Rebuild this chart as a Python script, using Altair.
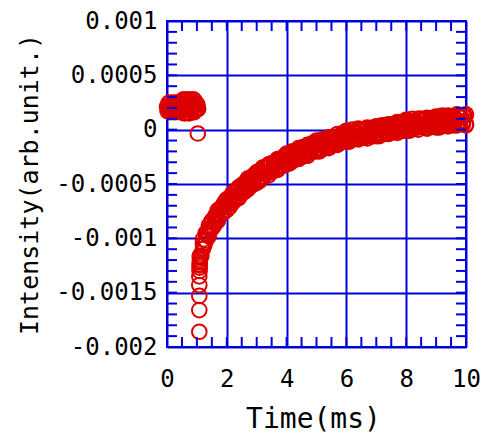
import altair as alt
import pandas as pd

BLUE = "#0000dd"
RED = "#dd0000"
FONT = "DejaVu Sans Mono"

# ---- data (time in ms, intensity in units of 1e-5 arb.unit) ----
pre_t = [0.00, 0.02, 0.04, 0.06, 0.08, 0.10, 0.12, 0.14, 0.16, 0.18,
         0.20, 0.22, 0.24, 0.26, 0.28, 0.30, 0.32, 0.34, 0.36, 0.38,
         0.40, 0.42, 0.44, 0.46, 0.48,
         0.50, 0.52, 0.54, 0.56, 0.58, 0.60, 0.62, 0.64, 0.66, 0.68,
         0.70, 0.72, 0.74, 0.76, 0.78, 0.80, 0.82, 0.84, 0.86, 0.88,
         0.90, 0.92, 0.94, 0.96, 0.98, 1.00, 1.02, 1.04]
pre_v = [21, 17, 24, 19, 25, 16, 22, 18, 24, 20,
         17, 25, 21, 16, 23, 19, 25, 18, 22, 17,
         24, 20, 16, 23, 19,
         26, 17, 22, 28, 15, 24, 20, 27, 16, 23,
         19, 28, 15, 25, 21, 27, 17, 24, 20, 28,
         16, 22, 26, 18, 24, 20, 23, 19]

drop_t = [1.03, 1.08, 1.08, 1.08, 1.08, 1.08, 1.09, 1.09, 1.09, 1.10, 1.10, 1.11]
drop_v = [-3.5, -186, -166, -153, -143, -135, -130, -127, -124, -122, -120, -118]

rec_t = [1.10, 1.15, 1.20, 1.25, 1.30, 1.35, 1.40, 1.45, 1.50, 1.55,
         1.60, 1.65, 1.70, 1.75, 1.80, 1.85, 1.90, 1.95, 2.00, 2.05,
         2.10, 2.15, 2.20, 2.25, 2.30, 2.35, 2.40, 2.45, 2.50, 2.55,
         2.60, 2.65, 2.70, 2.75, 2.80, 2.85, 2.90, 2.95, 3.00, 3.05,
         3.10, 3.15, 3.20, 3.25, 3.30, 3.35, 3.40, 3.45, 3.50, 3.55,
         3.60, 3.65, 3.70, 3.75, 3.80, 3.85, 3.90, 3.95, 4.00, 4.05,
         4.10, 4.15, 4.20, 4.25, 4.30, 4.35, 4.40, 4.45, 4.50, 4.55,
         4.60, 4.65, 4.70, 4.75, 4.80, 4.85, 4.90, 4.95, 5.00, 5.05,
         5.10, 5.15, 5.20, 5.25, 5.30, 5.35, 5.40, 5.45, 5.50, 5.55,
         5.60, 5.65, 5.70, 5.75, 5.80, 5.85, 5.90, 5.95, 6.00, 6.05,
         6.10, 6.15, 6.20, 6.25, 6.30, 6.35, 6.40, 6.45, 6.50, 6.55,
         6.60, 6.65, 6.70, 6.75, 6.80, 6.85, 6.90, 6.95, 7.00, 7.05,
         7.10, 7.15, 7.20, 7.25, 7.30, 7.35, 7.40, 7.45, 7.50, 7.55,
         7.60, 7.65, 7.70, 7.75, 7.80, 7.85, 7.90, 7.95, 8.00, 8.05,
         8.10, 8.15, 8.20, 8.25, 8.30, 8.35, 8.40, 8.45, 8.50, 8.55,
         8.60, 8.65, 8.70, 8.75, 8.80, 8.85, 8.90, 8.95, 9.00, 9.05,
         9.10, 9.15, 9.20, 9.25, 9.30, 9.35, 9.40, 9.45, 9.50, 9.55,
         9.60, 9.65, 9.70, 9.75, 9.80, 9.85, 9.90, 9.95, 10.00]
rec_v = [-117, -116, -105, -106, -95, -97, -91, -92, -84, -89,
         -83, -78, -82, -74, -78, -72, -76, -66, -70, -66,
         -68, -61, -67, -62, -58, -62, -55, -59, -54, -58,
         -49, -52, -48, -51, -44, -51, -46, -42, -47, -40,
         -45, -40, -44, -35, -39, -35, -39, -32, -39, -34,
         -30, -36, -29, -34, -29, -33, -25, -29, -25, -28,
         -22, -29, -25, -21, -26, -20, -25, -21, -25, -16,
         -21, -17, -21, -14, -21, -17, -14, -19, -12, -18,
         -14, -18, -10, -14, -11, -15, -8, -16, -11, -8,
         -13, -7, -12, -8, -12, -4, -8, -5, -8, -2,
         -10, -6, -2, -8, -2, -7, -3, -8, 0, -4,
         -1, -5, 1, -6, -2, 1, -5, 1, -4, 0,
         -5, 3, -1, 2, -2, 4, -3, 1, 4, -2,
         5, -1, 3, -1, 7, 2, 5, 2, 8, 0,
         4, 8, 2, 8, 2, 6, 2, 10, 5, 8,
         4, 10, 2, 7, 10, 4, 10, 4, 8, 3,
         11, 7, 10, 6, 12, 4, 8, 11, 5, 11,
         6, 10, 5, 13, 8, 11, 7, 13, 5]

# upper and lower edges of the scattered band
band_t = [1.1, 1.2, 1.3, 1.4, 1.5, 1.6, 1.7, 1.8, 1.9, 2.0,
          2.1, 2.2, 2.3, 2.4, 2.5, 2.6, 2.7, 2.8, 2.9, 3.0,
          3.1, 3.2, 3.3, 3.4, 3.5, 3.6, 3.7, 3.8, 3.9, 4.0,
          4.1, 4.2, 4.3, 4.4, 4.5, 4.6, 4.7, 4.8, 4.9, 5.0,
          5.1, 5.2, 5.3, 5.4, 5.5, 5.6, 5.7, 5.8, 5.9, 6.0,
          6.1, 6.2, 6.3, 6.4, 6.5, 6.6, 6.7, 6.8, 6.9, 7.0,
          7.1, 7.2, 7.3, 7.4, 7.5, 7.6, 7.7, 7.8, 7.9, 8.0,
          8.1, 8.2, 8.3, 8.4, 8.5, 8.6, 8.7, 8.8, 8.9, 9.0,
          9.1, 9.2, 9.3, 9.4, 9.5, 9.6, 9.7, 9.8, 9.9, 10.0]
band_hi = [-116, -101, -96, -88, -84, -80, -74, -72, -68, -64,
           -62, -58, -58, -53, -51, -50, -45, -45, -42, -39,
           -38, -35, -35, -32, -31, -30, -27, -27, -25, -22,
           -22, -20, -20, -17, -17, -17, -14, -14, -12, -10,
           -11, -9, -10, -7, -7, -7, -4, -5, -3, -1,
           -2, 0, -2, 1, 0, 0, 2, 1, 2, 3,
           3, 4, 3, 5, 5, 5, 7, 6, 7, 9,
           8, 10, 8, 10, 10, 9, 11, 10, 11, 12,
           11, 13, 11, 13, 12, 11, 14, 12, 13, 14]
band_lo = [-125, -110, -102, -98, -91, -87, -84, -78, -76, -74,
           -71, -67, -64, -63, -58, -57, -55, -51, -50, -49,
           -47, -44, -41, -42, -38, -37, -37, -33, -33, -32,
           -31, -29, -26, -27, -24, -24, -24, -20, -20, -20,
           -20, -18, -16, -17, -14, -14, -14, -11, -11, -11,
           -11, -9, -8, -9, -6, -7, -8, -5, -6, -6,
           -6, -4, -3, -4, -2, -2, -3, 0, -1, -1,
           -1, 1, 2, 0, 3, 2, 1, 4, 3, 2,
           2, 4, 5, 3, 5, 4, 4, 6, 5, 4]

x_major = [0, 2, 4, 6, 8, 10]
y_major = [-0.002, -0.0015, -0.001, -0.0005, 0, 0.0005, 0.001]
x_minor = [0, 0.5, 1, 1.5, 2, 2.5, 3, 3.5, 4, 4.5, 5, 5.5, 6, 6.5, 7, 7.5,
           8, 8.5, 9, 9.5, 10]
y_minor_e4 = [-20, -19, -18, -17, -16, -15, -14, -13, -12, -11, -10, -9, -8,
              -7, -6, -5, -4, -3, -2, -1, 0, 1, 2, 3, 4, 5, 6, 7, 8, 9, 10]

rows = []
for ts, vs in ((pre_t, pre_v), (drop_t, drop_v), (rec_t, rec_v),
               (band_t, band_hi), (band_t, band_lo)):
    for t, v in zip(ts, vs):
        rows.append({"t": t, "v": v * 1e-5})
df = pd.DataFrame(rows)

W, H = 299, 326
xs = alt.Scale(domain=[0, 10], nice=False, zero=False)
ys = alt.Scale(domain=[-0.002, 0.001], nice=False, zero=False)

x_axis = alt.Axis(
    values=x_major, grid=True, gridColor=BLUE, gridWidth=2, gridOpacity=1,
    domain=False, ticks=False, tickSize=0, labelPadding=20,
    labelFont=FONT, labelFontSize=24, labelColor="black",
    labelFlush=False, labelOverlap=False, format="d",
    title="Time(ms)", titleFont=FONT, titleFontSize=28,
    titleFontWeight="normal", titleColor="black",
    titleX=146, titleY=72, titleAlign="center", titleBaseline="middle")
y_axis = alt.Axis(
    values=y_major, grid=True, gridColor=BLUE, gridWidth=2, gridOpacity=1,
    domain=False, ticks=False, tickSize=0, labelPadding=10,
    labelFont=FONT, labelFontSize=24, labelColor="black",
    labelFlush=False, labelOverlap=False,
    labelExpr="replace(format(datum.value, '~g'), '\u2212', '-')",
    title="Intensity(arb.unit.)", titleFont=FONT, titleFontSize=25,
    titleFontWeight="normal", titleColor="black", titleAngle=270,
    titleX=-138, titleY=163, titleAlign="center", titleBaseline="middle")

points = alt.Chart(df).mark_point(
    shape="circle", filled=False, size=215, strokeWidth=2, color=RED, opacity=1
).encode(
    x=alt.X("t:Q", scale=xs, axis=x_axis),
    y=alt.Y("v:Q", scale=ys, axis=y_axis),
)

ytick_df = pd.DataFrame({"v": [e * 1e-4 for e in y_minor_e4]})
xtick_df = pd.DataFrame({"t": x_minor})

left_ticks = alt.Chart(ytick_df).mark_rule(color=BLUE, strokeWidth=2).encode(
    y=alt.Y("v:Q", scale=ys, axis=y_axis), x=alt.value(0), x2=alt.value(10))
right_ticks = alt.Chart(ytick_df).mark_rule(color=BLUE, strokeWidth=2).encode(
    y=alt.Y("v:Q", scale=ys, axis=y_axis), x=alt.value(W - 10), x2=alt.value(W))
bottom_ticks = alt.Chart(xtick_df).mark_rule(color=BLUE, strokeWidth=2).encode(
    x=alt.X("t:Q", scale=xs, axis=x_axis), y=alt.value(H - 10), y2=alt.value(H))
top_ticks = alt.Chart(xtick_df).mark_rule(color=BLUE, strokeWidth=2).encode(
    x=alt.X("t:Q", scale=xs, axis=x_axis), y=alt.value(0), y2=alt.value(10))

chart = alt.layer(points, left_ticks, right_ticks, bottom_ticks, top_ticks).properties(
    width=W, height=H,
    autosize=alt.AutoSizeParams(type="none"),
    padding={"left": 159, "top": 13, "right": 18, "bottom": 86},
).configure_view(stroke=BLUE, strokeWidth=2)

chart.save("out.html", embed_options={"renderer": "svg", "actions": False})
